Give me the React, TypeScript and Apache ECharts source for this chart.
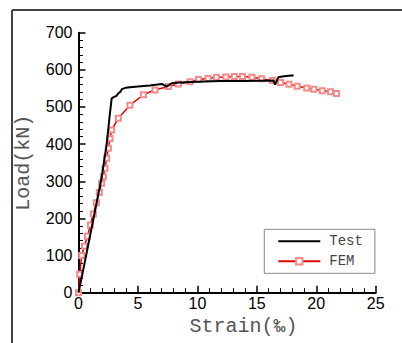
import React, { useEffect, useRef } from "react";
import * as echarts from "echarts";

const testStrain = [0, 0.5, 1.0, 1.5, 1.95, 2.37, 2.6, 2.79, 3.0, 3.2, 3.35, 3.5, 3.65, 4.0, 4.33, 5.0, 6.0, 7.0, 7.42, 7.84, 8.5, 10.0, 11.9, 14.0, 16.4, 16.54, 16.8, 17.3, 17.9, 18.1];
const testLoad = [0, 78, 158, 238, 310, 400, 470, 523, 527, 530, 537, 540, 548, 552, 553, 555, 558, 562, 555, 564, 566, 568, 570, 570, 571, 560, 580, 583, 585, 585];

const femStrain = [0, 0.1, 0.27, 0.5, 0.75, 1.0, 1.25, 1.5, 1.75, 1.95, 2.09, 2.23, 2.37, 2.51, 2.65, 2.79, 3.35, 4.33, 5.46, 6.44, 7.56, 8.4, 9.39, 10.1, 10.9, 11.6, 12.4, 13.1, 13.8, 14.6, 15.4, 16.3, 17.0, 17.7, 18.4, 19.2, 19.8, 20.5, 21.2, 21.7];
const femLoad = [0, 50, 100, 125, 152, 182, 212, 242, 270, 295, 312, 335, 362, 389, 415, 438, 470, 505, 533, 546, 555, 562, 568, 574, 577, 580, 581, 582, 582, 580, 576, 571, 566, 561, 556, 551, 548, 544, 541, 536];

const seriesNames = ["Test", "FEM"];
const xTitle = "Strain(‰)";
const yTitle = "Load(kN)";

export default function App() {
  const ref = useRef<HTMLDivElement>(null);
  useEffect(() => {
    if (!ref.current) return;
    const chart = echarts.init(ref.current, undefined, { renderer: "svg" });
    const testData = testStrain.map((x, i) => [x, testLoad[i]]);
    const femData = femStrain.map((x, i) => [x, femLoad[i]]);
    const labelFont = { fontFamily: "Liberation Sans, Arial, sans-serif", fontSize: 16, color: "#000" };
    const titleFont = { fontFamily: "Liberation Mono, Courier New, monospace", fontSize: 20, color: "#555" };
    chart.setOption({
      animation: false,
      backgroundColor: "#fff",
      grid: { left: 78.5, right: 26.3, top: 32.7, bottom: 50.3, containLabel: false },
      legend: {
        orient: "vertical",
        left: 264.3,
        top: 229.3,
        padding: [5, 12, 5, 13],
        itemWidth: 42,
        itemHeight: 8,
        itemGap: 6,
        borderColor: "#888",
        borderWidth: 1,
        borderRadius: 0,
        backgroundColor: "#fff",
        textStyle: { fontFamily: "Liberation Mono, Courier New, monospace", fontSize: 14, color: "#444", padding: [0, 0, 0, 4] },
        data: [
          { name: seriesNames[0], itemStyle: { opacity: 0 } },
          { name: seriesNames[1] },
        ],
      },
      xAxis: {
        type: "value",
        min: 0,
        max: 25,
        interval: 5,
        name: xTitle,
        nameLocation: "middle",
        nameGap: 17,
        nameTextStyle: { ...titleFont, padding: [0, 0, 0, 33] },
        axisLine: { show: true, onZero: false, lineStyle: { color: "#000", width: 2 } },
        axisTick: { show: true, inside: true, length: 7, lineStyle: { color: "#000", width: 1.5 } },
        minorTick: { show: true, splitNumber: 5, length: 4.5, lineStyle: { color: "#000", width: 1 } },
        axisLabel: { ...labelFont, margin: 3 },
        splitLine: { show: false },
      },
      yAxis: {
        type: "value",
        min: 0,
        max: 700,
        interval: 100,
        name: yTitle,
        nameLocation: "middle",
        nameGap: 45,
        nameRotate: 90,
        nameTextStyle: titleFont,
        axisLine: { show: true, onZero: false, lineStyle: { color: "#000", width: 2 } },
        axisTick: { show: true, inside: true, length: 7, lineStyle: { color: "#000", width: 1.5 } },
        minorTick: { show: true, splitNumber: 5, length: 4.5, lineStyle: { color: "#000", width: 1 } },
        axisLabel: { ...labelFont, margin: 6 },
        splitLine: { show: false },
      },
      graphic: [
        { type: "line", shape: { x1: 12, y1: 10, x2: 402, y2: 10 }, style: { stroke: "#444", lineWidth: 2 } },
        { type: "line", shape: { x1: 12, y1: 10, x2: 12, y2: 343 }, style: { stroke: "#444", lineWidth: 2 } },
      ],
      series: [
        {
          name: seriesNames[0],
          type: "line",
          data: testData,
          showSymbol: false,
          symbol: "none",
          lineStyle: { color: "#000", width: 2 },
          itemStyle: { color: "#000" },
          z: 3,
        },
        {
          name: seriesNames[1],
          type: "line",
          data: femData,
          symbol: "emptyRect",
          symbolSize: 5,
          lineStyle: { color: "#e00000", width: 1.5 },
          itemStyle: { color: "#f58a8a", borderColor: "#f58a8a", borderWidth: 1 },
          z: 2,
        },
      ],
    });
    return () => chart.dispose();
  }, []);
  return <div ref={ref} style={{ position: "fixed", left: 0, top: 0, width: 402, height: 343 }} />;
}
